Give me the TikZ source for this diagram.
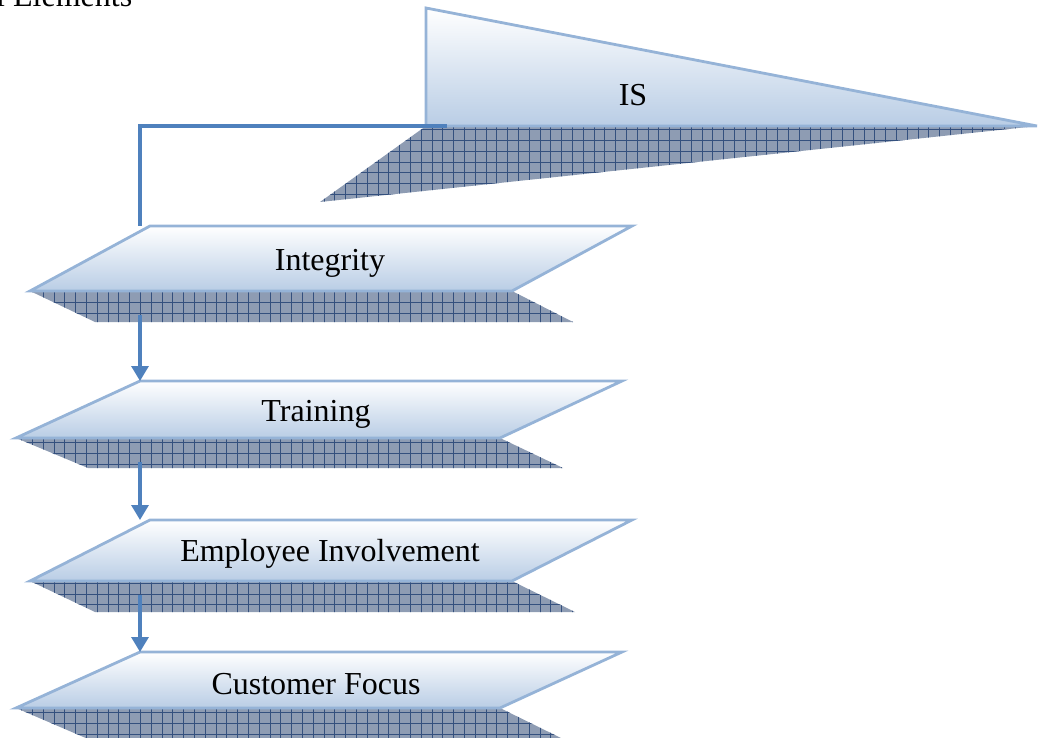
\documentclass[tikz,border=0pt]{standalone}
\usepackage{fontspec}
\setmainfont{Liberation Serif}
\usetikzlibrary{arrows.meta}

\definecolor{edgeblue}{HTML}{95B3D7}
\definecolor{fillblue}{HTML}{B9CDE5}
\definecolor{linkblue}{HTML}{4F81BD}
\definecolor{shadowgray}{HTML}{8E9CB3}
\definecolor{gridnavy}{HTML}{34507E}

% hatched drop shadow: flat fill with a square grid clipped to the outline
\newcommand\hatchregion[1]{%
  \fill[shadowgray] #1;
  \begin{scope}
    \clip #1;
    \draw[gridline] (0,738) grid[step=10.8pt] (1039,0);
  \end{scope}}

\begin{document}
\begin{tikzpicture}[x=1pt,y=-1pt,
  panel/.style={draw=edgeblue, line width=2.8pt, line join=miter,
                top color=white, bottom color=fillblue},
  gridline/.style={draw=gridnavy, line width=0.9pt},
  link/.style={draw=linkblue, line width=3.2pt},
  arrowlink/.style={link, -{Triangle[width=17pt,length=15pt]}},
  label/.style={font=\fontsize{32}{38}\selectfont, text=black, inner sep=0pt}]

\useasboundingbox (0,0) rectangle (1039,738);

% heading, cut off by the page edge
\node[label, anchor=base west] (heading) at (-4,7) {l Elements};

% ---- IS wedge ----
\hatchregion{(426,126) -- (1037,126) -- (320,202) -- cycle}
\path[panel] (426,8) -- (426,126) -- (1037,126) -- cycle;
\node[label, anchor=base] (is) at (633,106) {IS};

% ---- Integrity ----
\hatchregion{(30,291) -- (512,291) -- (573,322) -- (95,322) -- cycle}
\path[panel] (150,226) -- (632,226) -- (512,291) -- (30,291) -- cycle;
\node[label, anchor=base] (integrity) at (330,270) {Integrity};

% ---- Training ----
\hatchregion{(16,438) -- (500,438) -- (563,468) -- (88,468) -- cycle}
\path[panel] (140,381) -- (622,381) -- (500,438) -- (16,438) -- cycle;
\node[label, anchor=base] (training) at (316,421) {Training};

% ---- Employee Involvement ----
\hatchregion{(30,581) -- (512,581) -- (575,612) -- (95,612) -- cycle}
\path[panel] (150,520) -- (632,520) -- (512,581) -- (30,581) -- cycle;
\node[label, anchor=base] (employee) at (330,561) {Employee Involvement};

% ---- Customer Focus ----
\hatchregion{(16,708) -- (500,708) -- (563,739) -- (88,739) -- cycle}
\path[panel] (140,652) -- (622,652) -- (500,708) -- (16,708) -- cycle;
\node[label, anchor=base] (customer) at (316,694) {Customer Focus};

% ---- connectors ----
\coordinate (isjoin)   at (447,126);
\coordinate (intgtop)  at (140,226);
\coordinate (intgout)  at (140,315);
\coordinate (trainin)  at (140,381);
\coordinate (trainout) at (140,462);
\coordinate (emplin)   at (140,520);
\coordinate (emplout)  at (140,595);
\coordinate (custin)   at (140,652);

\draw[link] (intgtop) |- (isjoin);
\draw[arrowlink] (intgout) -- (trainin);
\draw[arrowlink] (trainout) -- (emplin);
\draw[arrowlink] (emplout) -- (custin);
\end{tikzpicture}
\end{document}
